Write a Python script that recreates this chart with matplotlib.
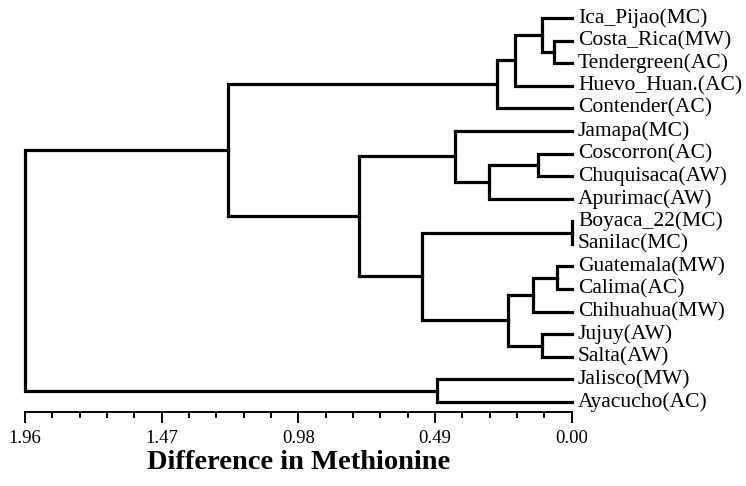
import matplotlib
matplotlib.use('Agg')
import matplotlib.pyplot as plt
from matplotlib.ticker import MultipleLocator

plt.rcParams['font.family'] = ['Liberation Serif', 'DejaVu Serif']

# leaves, top to bottom
labels = ['Ica_Pijao(MC)', 'Costa_Rica(MW)', 'Tendergreen(AC)', 'Huevo_Huan.(AC)',
          'Contender(AC)', 'Jamapa(MC)', 'Coscorron(AC)', 'Chuquisaca(AW)',
          'Apurimac(AW)', 'Boyaca_22(MC)', 'Sanilac(MC)', 'Guatemala(MW)',
          'Calima(AC)', 'Chihuahua(MW)', 'Jujuy(AW)', 'Salta(AW)',
          'Jalisco(MW)', 'Ayacucho(AC)']

# merges: new cluster id = 18 + row index
merge_a = [9, 11, 1, 0, 14, 6, 19, 21, 24, 25, 23, 5, 16, 18, 29, 27, 33]
merge_b = [10, 12, 2, 20, 15, 7, 13, 3, 22, 4, 8, 28, 17, 26, 31, 32, 30]
merge_h = [0.0, 0.054, 0.063, 0.108, 0.108, 0.120, 0.140, 0.203, 0.227,
           0.268, 0.297, 0.418, 0.482, 0.537, 0.763, 1.232, 1.96]

n = len(labels)
ypos = {i: -i for i in range(n)}
hpos = {i: 0.0 for i in range(n)}

fig = plt.figure(figsize=(7.46, 4.86), dpi=100)
ax = fig.add_axes([25 / 746, 1 - 412 / 486, 546.7 / 746, 412 / 486])

lw = 2.3
for k, (a, b, h) in enumerate(zip(merge_a, merge_b, merge_h)):
    node = n + k
    ya, yb = ypos[a], ypos[b]
    ax.plot([hpos[a], h, h, hpos[b]], [ya, ya, yb, yb], color='black',
            lw=lw, solid_joinstyle='miter', clip_on=False)
    ypos[node] = (ya + yb) / 2
    hpos[node] = h

for i, lab in enumerate(labels):
    ax.annotate(lab, (0, -i), xytext=(4.5, 0), textcoords='offset points',
                va='center', ha='left', fontsize=15.5, annotation_clip=False)

ax.set_xlim(1.96, 0)
ax.set_ylim(-17.443, 0.797)
ax.set_xticks([1.96, 1.47, 0.98, 0.49, 0.00])
ax.set_xticklabels(['1.96', '1.47', '0.98', '0.49', '0.00'])
ax.xaxis.set_minor_locator(MultipleLocator(0.098))
ax.tick_params(axis='x', which='major', length=8, width=1.4, labelsize=13.5, pad=5)
ax.tick_params(axis='x', which='minor', length=4, width=1.4)
ax.set_yticks([])
for s in ['top', 'left', 'right']:
    ax.spines[s].set_visible(False)
ax.spines['bottom'].set_linewidth(1.4)
ax.set_xlabel('Difference in Methionine', fontsize=20.5, fontweight='bold', labelpad=2)

fig.savefig('out.png', dpi=100)
